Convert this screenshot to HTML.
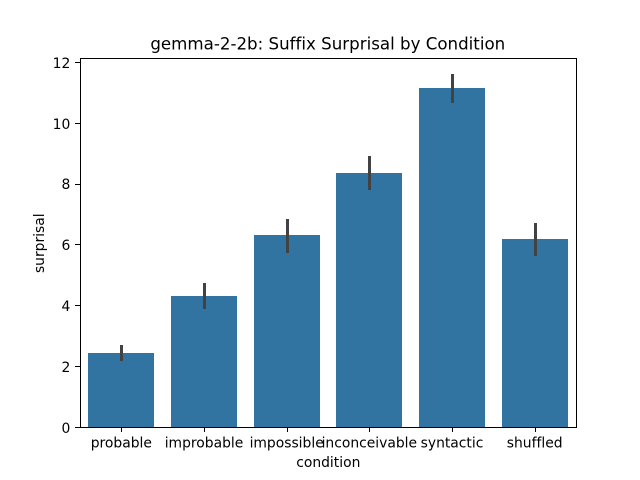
<!DOCTYPE html>
<html>
<head>
<meta charset="utf-8">
<title>gemma-2-2b: Suffix Surprisal by Condition</title>
<style>
html,body{margin:0;padding:0;background:#fff;}
#chart{display:block;width:640px;height:480px;}
text{font-family:"DejaVu Sans",sans-serif;fill:#000;font-variant-ligatures:none;}
</style>
</head>
<body>
<svg id="chart" xmlns="http://www.w3.org/2000/svg" width="640" height="480" viewBox="0 0 640 480">
<rect x="0" y="0" width="640" height="480" fill="#ffffff"/>
<g id="bars"></g>
<g id="errors"></g>
<g id="xticks"></g>
<g id="yticks"></g>
<rect x="80.5" y="58.5" width="496" height="369" fill="none" stroke="#000" stroke-width="1"/>
<text x="327.8" y="49.3" font-size="16.67" text-anchor="middle">gemma-2-2b: Suffix Surprisal by Condition</text>
<text x="328.3" y="467" font-size="13.89" text-anchor="middle">condition</text>
<text transform="translate(44 243.2) rotate(-90)" font-size="13.89" text-anchor="middle">surprisal</text>
</svg>
<script>
const categories = ['probable', 'improbable', 'impossible', 'inconceivable', 'syntactic', 'shuffled'];
const surprisal = [2.44, 4.32, 6.32, 8.36, 11.16, 6.19];
const errorLow = [2.19, 3.89, 5.73, 7.80, 10.67, 5.63];
const errorHigh = [2.70, 4.74, 6.85, 8.92, 11.62, 6.72];
const yTickValues = [0, 2, 4, 6, 8, 10, 12];

const NS = 'http://www.w3.org/2000/svg';
const plotLeft = 80, plotRight = 576, plotTop = 57.6, plotBottom = 427.2;
const yMax = 12.16;
const barWidthUnits = 0.8;

function xScale(i) {
  return plotLeft + (i + 0.5) * (plotRight - plotLeft) / categories.length;
}
function yScale(v) {
  return plotBottom - v * (plotBottom - plotTop) / yMax;
}
function make(tag, attrs, parent) {
  const el = document.createElementNS(NS, tag);
  for (const k in attrs) el.setAttribute(k, attrs[k]);
  parent.appendChild(el);
  return el;
}

const barsG = document.getElementById('bars');
const errorsG = document.getElementById('errors');
const xTicksG = document.getElementById('xticks');
const yTicksG = document.getElementById('yticks');
const unit = (plotRight - plotLeft) / categories.length;

categories.forEach(function (name, i) {
  const cx = xScale(i);
  const w = barWidthUnits * unit;
  const left = Math.round(cx - w / 2);
  const right = Math.round(cx + w / 2);
  const top = Math.round(yScale(surprisal[i]));
  const snapX = Math.round(cx) + 0.5;

  const bar = make('rect', {x: left, y: top, width: right - left, height: 427 - top, fill: '#3274a1'}, barsG);
  
  

  const err = make('line', {x1: snapX, x2: snapX, y1: Math.round(yScale(errorLow[i])), y2: Math.round(yScale(errorHigh[i])), stroke: '#424242', 'stroke-width': 3}, errorsG);
  
  

  const tick = make('line', {x1: snapX, x2: snapX, y1: 428, y2: 432, stroke: '#000', 'stroke-width': 1}, xTicksG);
  
  

  const label = make('text', {x: cx, y: 447.5, 'font-size': 13.89, 'text-anchor': 'middle'}, xTicksG);
  
  
  label.textContent = name;
});

yTickValues.forEach(function (v) {
  const y = yScale(v);
  const snapY = Math.floor(y) + 0.5;

  const tick = make('line', {x1: 75, x2: 80, y1: snapY, y2: snapY, stroke: '#000', 'stroke-width': 1}, yTicksG);
  
  

  const label = make('text', {x: plotLeft - 9.7, y: Math.round(y + 5.4), 'font-size': 13.89, 'text-anchor': 'end'}, yTicksG);
  
  
  label.textContent = v;
});
</script>
</body>
</html>
